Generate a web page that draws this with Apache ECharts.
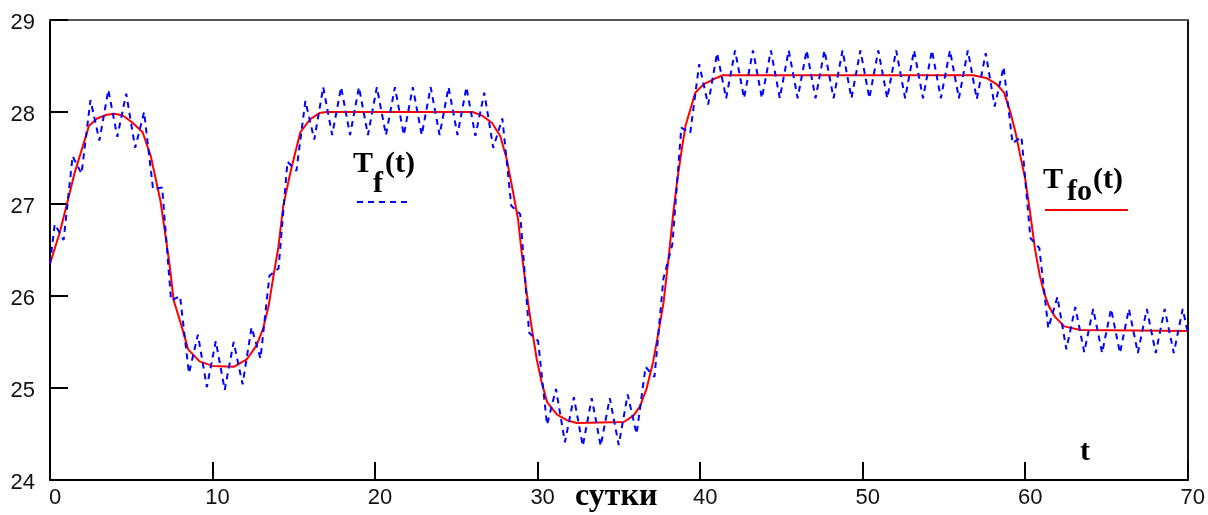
<!DOCTYPE html>
<html>
<head>
<meta charset="utf-8">
<script src="https://cdn.jsdelivr.net/npm/echarts@6/dist/echarts.min.js"></script>
<style>
  html, body { margin: 0; padding: 0; background: #fff; }
  #chart { width: 1208px; height: 515px; }
</style>
</head>
<body>
<div id="chart"></div>
<script>
// Axis ticks
const xTicks = [0, 10, 20, 30, 40, 50, 60, 70];
const yTicks = [24, 25, 26, 27, 28, 29];

// Smoothed temperature T_fo(t): time (days) and value
const tSmooth = [0, 0.6, 1.1, 1.5, 1.9, 2.4, 2.9, 3.5, 4.0, 4.5, 5.1, 5.7, 6.2, 6.8, 7.2, 7.4, 7.6, 8.1, 8.5, 9.2,
  10.0, 11.3, 12.1, 12.7, 13.1, 13.45, 13.75, 14.05, 14.35, 14.8, 15.4, 16.0, 16.6, 17.0, 26.0, 26.6, 27.2, 27.7, 28.1, 28.5,
  28.8, 29.0, 29.3, 29.65, 29.95, 30.25, 30.6, 31.2, 31.8, 32.4, 35.3, 35.9, 36.3, 36.7, 37.1, 37.4, 37.75, 38.05, 38.35, 38.6,
  38.9, 39.1, 39.4, 39.7, 40.2, 41.0, 41.4, 56.8, 57.6, 58.25, 58.7, 59.1, 59.4, 59.7, 60.0, 60.3, 60.6, 60.9, 61.15, 61.45,
  61.85, 62.4, 63.4, 70];
const vSmooth = [26.35, 26.69, 27.04, 27.33, 27.56, 27.85, 27.93, 27.97, 27.98, 27.96, 27.88, 27.78, 27.52, 27.03, 26.54, 26.28, 25.96, 25.67, 25.42, 25.29,
  25.24, 25.23, 25.31, 25.46, 25.64, 25.89, 26.22, 26.53, 26.98, 27.35, 27.78, 27.92, 27.99, 28.0, 28.0, 27.96, 27.88, 27.74, 27.49, 27.12,
  26.83, 26.5, 26.07, 25.64, 25.31, 25.06, 24.84, 24.71, 24.65, 24.62, 24.63, 24.70, 24.80, 24.99, 25.28, 25.57, 25.93, 26.4, 26.91, 27.27,
  27.63, 27.85, 28.03, 28.21, 28.30, 28.37, 28.4, 28.4, 28.37, 28.30, 28.21, 27.99, 27.78, 27.52, 27.27, 26.91, 26.51, 26.22, 26.04, 25.89,
  25.77, 25.67, 25.63, 25.62];

// Measured temperature T_f(t) with daily oscillation: time (days) and value
const tMeas = [0, 0.29, 0.84, 1.39, 1.94, 2.49, 3.04, 3.59, 4.14, 4.69, 5.24, 5.79, 6.34, 6.90, 7.45, 8.00, 8.55, 9.10, 9.65,
  10.20, 10.75, 11.30, 11.85, 12.40, 12.95, 13.50, 14.06, 14.61, 15.16, 15.71, 16.26, 16.81, 17.36, 17.91, 18.46, 19.01, 19.56,
  20.11, 20.67, 21.22, 21.77, 22.32, 22.87, 23.42, 23.97, 24.52, 25.07, 25.62, 26.17, 26.72, 27.27, 27.83, 28.38, 28.93, 29.48,
  30.03, 30.58, 31.13, 31.68, 32.23, 32.78, 33.33, 33.88, 34.44, 34.99, 35.54, 36.09, 36.64, 37.19, 37.74, 38.29, 38.84, 39.39,
  39.94, 40.49, 41.04, 41.60, 42.15, 42.70, 43.25, 43.80, 44.35, 44.90, 45.45, 46.00, 46.55, 47.10, 47.65, 48.21, 48.76, 49.31,
  49.86, 50.41, 50.96, 51.51, 52.06, 52.61, 53.16, 53.71, 54.26, 54.81, 55.37, 55.92, 56.47, 57.02, 57.57, 58.12, 58.67, 59.22,
  59.77, 60.32, 60.87, 61.42, 61.98, 62.53, 63.08, 63.63, 64.18, 64.73, 65.28, 65.83, 66.38, 66.93, 67.48, 68.03, 68.58, 69.14,
  69.69, 70];
const vMeas = [26.35, 26.78, 26.61, 27.52, 27.33, 28.13, 27.69, 28.24, 27.73, 28.20, 27.61, 28.00, 27.16, 27.18, 25.95, 26.00, 25.16, 25.58, 25.01,
  25.51, 24.98, 25.50, 25.04, 25.66, 25.32, 26.22, 26.30, 27.46, 27.36, 28.12, 27.70, 28.27, 27.75, 28.27, 27.75, 28.27, 27.75,
  28.27, 27.75, 28.27, 27.75, 28.27, 27.75, 28.27, 27.75, 28.27, 27.75, 28.27, 27.74, 28.21, 27.61, 27.93, 26.98, 26.89, 25.60,
  25.51, 24.60, 24.99, 24.41, 24.90, 24.37, 24.89, 24.37, 24.89, 24.38, 24.93, 24.50, 25.23, 25.12, 26.19, 26.56, 27.83, 27.77,
  28.52, 28.08, 28.64, 28.15, 28.67, 28.15, 28.67, 28.15, 28.67, 28.15, 28.67, 28.15, 28.67, 28.15, 28.67, 28.15, 28.67, 28.15,
  28.67, 28.15, 28.67, 28.15, 28.67, 28.15, 28.67, 28.15, 28.67, 28.15, 28.67, 28.15, 28.67, 28.14, 28.64, 28.06, 28.49, 27.66,
  27.73, 26.63, 26.52, 25.65, 25.99, 25.42, 25.88, 25.39, 25.86, 25.38, 25.86, 25.38, 25.86, 25.38, 25.86, 25.38, 25.86, 25.38,
  25.86, 25.60];

const smoothPairs = tSmooth.map((t, i) => [t, vSmooth[i]]);
const measPairs = tMeas.map((t, i) => [t, vMeas[i]]);

const labelFont = '"Liberation Sans", Arial, sans-serif';
const serif = '"Liberation Serif", "Times New Roman", serif';

const chart = echarts.init(document.getElementById('chart'), null, { renderer: 'canvas' });

function mathText(x, y, str, size) {
  return {
    type: 'text', x: x, y: y, silent: true,
    style: { text: str, font: 'bold ' + size + 'px ' + serif, fill: '#000', align: 'left', verticalAlign: 'middle' }
  };
}

chart.setOption({
  animation: false,
  backgroundColor: '#fff',
  grid: { left: 50, right: 19, top: 20, bottom: 35, show: false },
  xAxis: [{
    type: 'value',
    min: xTicks[0], max: xTicks[xTicks.length - 1], interval: xTicks[1] - xTicks[0],
    axisLine: { show: true, onZero: false, lineStyle: { color: '#000', width: 2 } },
    axisTick: { show: true, inside: true, length: 18, lineStyle: { color: '#000', width: 2 } },
    axisLabel: { margin: 7, color: '#111', fontFamily: labelFont, fontSize: 22, padding: [0, 0, 0, 10], showMinLabel: true, showMaxLabel: true },
    splitLine: { show: false }
  }, {
    type: 'value', position: 'top',
    min: xTicks[0], max: xTicks[xTicks.length - 1],
    axisLine: { show: true, onZero: false, lineStyle: { color: '#555', width: 2 } },
    axisTick: { show: false }, axisLabel: { show: false }, splitLine: { show: false }
  }],
  yAxis: [{
    type: 'value',
    min: yTicks[0], max: yTicks[yTicks.length - 1], interval: yTicks[1] - yTicks[0],
    axisLine: { show: true, onZero: false, lineStyle: { color: '#000', width: 2 } },
    axisTick: { show: true, inside: true, length: 18, lineStyle: { color: '#000', width: 2 } },
    axisLabel: {
      margin: 15, color: '#111',
      formatter: '{v|{value}}',
      rich: { v: { fontFamily: labelFont, fontSize: 22, color: '#111', padding: [6, 0, 0, 0] } }
    },
    splitLine: { show: false }
  }, {
    type: 'value', position: 'right',
    min: yTicks[0], max: yTicks[yTicks.length - 1],
    axisLine: { show: true, onZero: false, lineStyle: { color: '#111', width: 2 } },
    axisTick: { show: false }, axisLabel: { show: false }, splitLine: { show: false }
  }],
  series: [{
    name: 'T_fo(t)', type: 'line', data: smoothPairs,
    showSymbol: false, symbol: 'none', smooth: false,
    lineStyle: { color: '#ff0000', width: 2 },
    z: 2
  }, {
    name: 'T_f(t)', type: 'line', data: measPairs,
    showSymbol: false, symbol: 'none', smooth: false,
    lineStyle: { color: '#0000ff', width: 2, type: [6, 5] },
    z: 3
  }],
  graphic: [
    // label and key for T_f(t)
    mathText(353, 164, 'T', 30),
    mathText(373, 184, 'f', 30),
    mathText(385, 164, '(t)', 30),
    { type: 'line', silent: true, shape: { x1: 357, y1: 202, x2: 412, y2: 202 },
      style: { stroke: '#0000ff', lineWidth: 2, lineDash: [6, 5] } },
    // label and key for T_fo(t)
    mathText(1043, 180, 'T', 30),
    mathText(1067, 192, 'fo', 30),
    mathText(1093, 180, '(t)', 30),
    { type: 'line', silent: true, shape: { x1: 1045, y1: 210, x2: 1128, y2: 210 },
      style: { stroke: '#ff0000', lineWidth: 2 } },
    // axis names
    mathText(575, 497, 'сутки', 32),
    mathText(1080, 452, 't', 30)
  ]
});
</script>
</body>
</html>
